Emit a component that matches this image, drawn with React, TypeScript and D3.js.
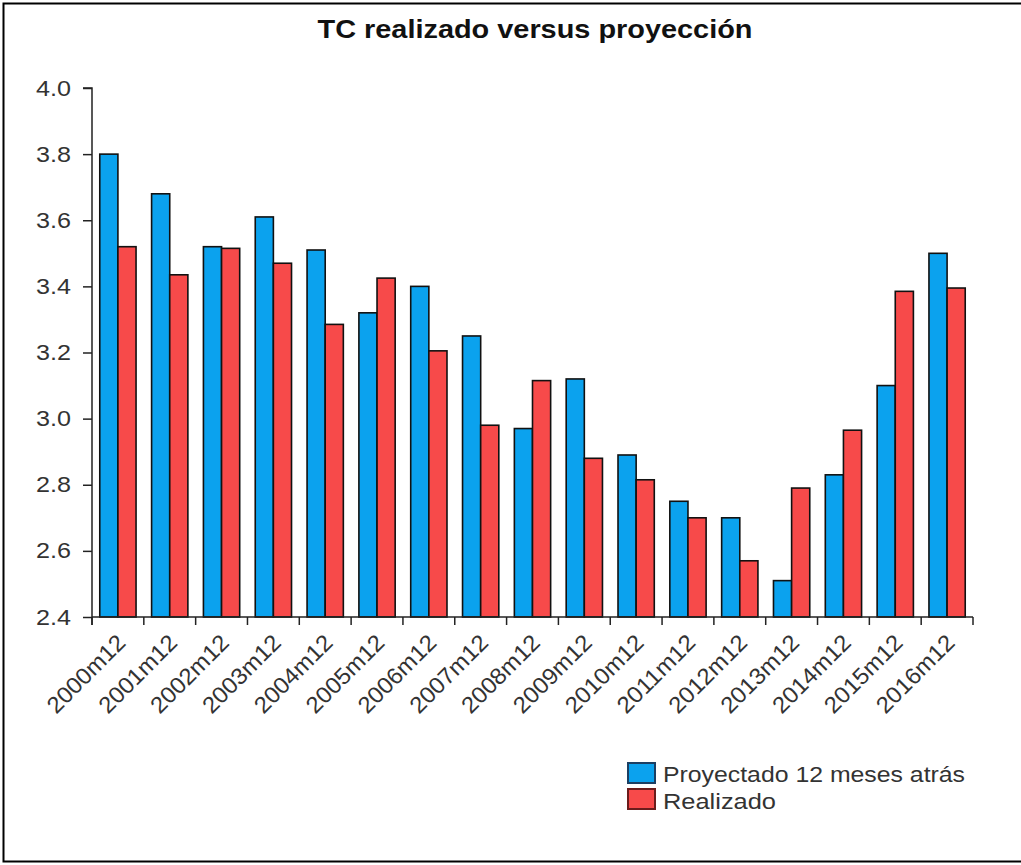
import React, { useEffect, useRef } from 'react';
import * as d3 from 'd3';

// Year-end exchange rate: projected 12 months earlier vs realized
const categories = [
  '2000m12', '2001m12', '2002m12', '2003m12', '2004m12', '2005m12', '2006m12', '2007m12', '2008m12',
  '2009m12', '2010m12', '2011m12', '2012m12', '2013m12', '2014m12', '2015m12', '2016m12',
];
const proyectado = [3.80, 3.68, 3.52, 3.61, 3.51, 3.32, 3.40, 3.25, 2.97, 3.12, 2.89, 2.75, 2.70, 2.51, 2.83, 3.10, 3.50];
const realizado = [3.52, 3.435, 3.515, 3.47, 3.285, 3.425, 3.205, 2.98, 3.115, 2.88, 2.815, 2.70, 2.57, 2.79, 2.965, 3.385, 3.395];
const yTicks = [2.4, 2.6, 2.8, 3.0, 3.2, 3.4, 3.6, 3.8, 4.0];
const seriesNames = ['Proyectado 12 meses atrás', 'Realizado'];
const legendWidths = [302, 113];
const seriesColors = ['#0ba2ee', '#f74a4a'];
const legendStrokes = ['#1b3f63', '#6b1c1c'];

const W = 1021;
const H = 865;

export default function App() {
  const ref = useRef<SVGSVGElement | null>(null);

  useEffect(() => {
    if (!ref.current) return;
    const svg = d3.select(ref.current);
    svg.selectAll('*').remove();

    const font = '"Liberation Sans", Arial, sans-serif';
    const left = 92, right = 973, top = 88, bottom = 617;

    // outer frame
    svg.append('rect')
      .attr('x', 3.5).attr('y', 3.5)
      .attr('width', W + 10).attr('height', 858)
      .attr('fill', '#fff').attr('stroke', '#000').attr('stroke-width', 2);

    svg.append('text')
      .attr('x', 535).attr('y', 38)
      .attr('text-anchor', 'middle')
      .attr('font-family', font).attr('font-weight', 'bold').attr('font-size', 26)
      .attr('textLength', 435).attr('lengthAdjust', 'spacingAndGlyphs')
      .attr('fill', '#111')
      .text('TC realizado versus proyección');

    const x0 = d3.scaleBand<string>()
      .domain(categories)
      .range([left, right])
      .paddingInner(0.3)
      .paddingOuter(0.15);
    const x1 = d3.scaleBand<number>()
      .domain([0, 1])
      .range([0, x0.bandwidth()]);
    const y = d3.scaleLinear().domain([2.4, 4.0]).range([bottom, top]);

    const rows = categories.map((c, i) => ({ c, vals: [proyectado[i], realizado[i]] }));

    const g = svg.append('g');
    g.selectAll('g.grp')
      .data(rows)
      .join('g')
      .attr('class', 'grp')
      .attr('transform', d => `translate(${x0(d.c)},0)`)
      .selectAll('rect')
      .data(d => d.vals.map((v, k) => ({ v, k })))
      .join('rect')
      .attr('x', d => x1(d.k)!)
      .attr('width', x1.bandwidth())
      .attr('y', d => y(d.v))
      .attr('height', d => bottom - y(d.v))
      .attr('fill', d => seriesColors[d.k])
      .attr('stroke', '#111')
      .attr('stroke-width', 1.6);

    // y axis
    const yAxis = svg.append('g')
      .attr('transform', `translate(${left},0)`)
      .call(d3.axisLeft(y).tickValues(yTicks).tickFormat(d3.format('.1f')).tickSize(9).tickPadding(12));
    yAxis.selectAll('path, line').attr('stroke', '#222').attr('stroke-width', 1.5);
    yAxis.select('.domain').attr('d', `M-9,${top}H0V${bottom + 8}`);
    yAxis.selectAll('text')
      .attr('font-family', font).attr('font-size', 22).attr('fill', '#333')
      .attr('textLength', 35).attr('lengthAdjust', 'spacingAndGlyphs');

    // x axis: ticks at band boundaries
    const step = x0.step();
    const bounds = d3.range(categories.length + 1).map(i => left + i * step);
    const xAxis = svg.append('g');
    xAxis.append('line')
      .attr('x1', left).attr('x2', right).attr('y1', bottom).attr('y2', bottom)
      .attr('stroke', '#222').attr('stroke-width', 1.5);
    xAxis.selectAll('line.tick')
      .data(bounds)
      .join('line')
      .attr('class', 'tick')
      .attr('x1', d => d).attr('x2', d => d)
      .attr('y1', bottom).attr('y2', bottom + 8)
      .attr('stroke', '#222').attr('stroke-width', 1.5);
    xAxis.selectAll('text')
      .data(categories)
      .join('text')
      .attr('transform', d => `translate(${x0(d)! + x0.bandwidth() / 2 + 9},${bottom + 27}) rotate(-45)`)
      .attr('text-anchor', 'end')
      .attr('font-family', font).attr('font-size', 23).attr('fill', '#333')
      .attr('textLength', 100).attr('lengthAdjust', 'spacingAndGlyphs')
      .text(d => d);

    // legend
    const lg = svg.append('g').attr('transform', 'translate(628,763)');
    seriesNames.forEach((name, k) => {
      lg.append('rect')
        .attr('x', 0).attr('y', k * 26)
        .attr('width', 27).attr('height', 20)
        .attr('fill', seriesColors[k])
        .attr('stroke', legendStrokes[k]).attr('stroke-width', 2);
      lg.append('text')
        .attr('x', 35).attr('y', k * 27 + 19)
        .attr('font-family', font).attr('font-size', 22).attr('fill', '#333')
        .attr('textLength', legendWidths[k]).attr('lengthAdjust', 'spacingAndGlyphs')
        .text(name);
    });
  }, []);

  return (
    <svg
      ref={ref}
      width={W}
      height={H}
      style={{ position: 'absolute', left: 0, top: 0, background: '#fff' }}
    />
  );
}
